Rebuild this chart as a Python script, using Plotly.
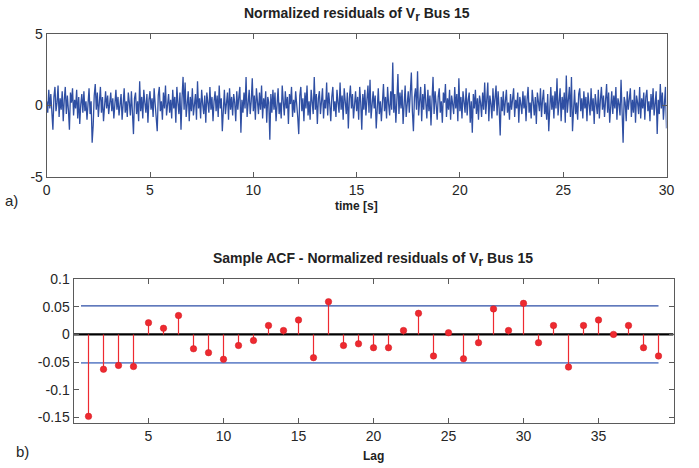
import plotly.graph_objects as go

# ---------------- data ----------------
DT = 0.05
residual_rows = [
    [0.3, -0.5, 1.1, -0.2, 0.8, -0.9, -1.7, 0.6, 1.3, -0.4, 0.2, 1.4, -0.8, 0.5, -0.3, 1.0, -1.1, 0.4, 1.3, -0.6],
    [0.7, -0.3, -1.7, 0.9, 0.2, 1.2, -0.7, 0.4, -0.2, 1.1, -0.9, 0.6, -1.3, 0.1, 0.8, -0.5, 1.0, -0.4, 0.3, -1.0],
    [0.5, 1.2, -0.6, 0.3, -2.6, -1.4, 0.7, 1.5, -0.3, 0.9, -0.8, 0.2, 1.3, -0.5, 0.6, -1.1, 0.4, 1.0, -0.2, 0.7],
    [-0.6, 0.3, 0.9, -0.4, 0.5, -0.9, 0.2, 1.1, -0.3, 0.6, -0.7, 0.1, 0.8, -1.0, 0.4, 1.2, -0.5, 0.3, -0.8, 0.9],
    [0.2, -0.7, 1.0, -0.3, -2.0, 0.5, 0.9, -0.6, 0.3, -1.1, 1.7, -0.4, 0.6, -0.9, 1.1, 0.2, -0.5, 0.8, -1.2, 0.4],
    [1.0, -0.3, 0.5, -0.8, 1.2, 0.1, -0.6, -1.8, 0.7, 1.3, -0.4, 0.3, -1.0, 0.9, -0.2, 1.4, -0.7, 0.2, 0.8, -0.5],
    [0.4, -0.9, 1.1, -0.2, 0.6, -1.2, 1.3, 0.2, -0.6, 0.9, -1.7, 0.5, 2.0, -0.3, 1.6, -0.8, 0.3, 1.0, -1.1, 0.6],
    [-0.4, 1.2, -0.7, 0.3, 0.8, -1.0, 1.7, -0.2, 0.5, -0.9, 1.1, 0.1, -0.6, 0.7, -1.2, 0.9, 0.2, -0.5, 1.3, -0.3],
    [0.6, -1.1, 0.3, 1.0, -0.4, 0.7, -0.8, 1.4, -0.2, 0.5, -1.8, 0.4, 1.1, -0.6, 0.2, 0.9, -1.0, 1.2, -0.3, 0.6],
    [-0.7, 0.8, 0.2, -1.1, 1.0, -0.3, 0.6, 1.3, -1.9, 0.4, -0.5, 0.9, -0.2, 2.0, -0.8, 0.5, 1.1, -0.6, 0.3, 1.9],
    [-0.4, 0.7, -1.0, 1.2, 0.1, -0.6, 0.9, -0.3, 1.4, -0.9, 0.5, -0.2, 1.0, -1.2, 0.6, 0.2, -2.4, 0.8, -0.5, 1.1],
    [-0.3, 0.9, -1.1, 0.4, 1.2, -0.6, 0.2, -0.9, 1.4, 0.3, -0.7, 1.0, -0.2, 0.6, -1.3, 0.8, 0.1, 1.3, -0.8, 0.4],
    [-0.5, 1.0, 0.2, -0.8, -2.0, 0.7, 1.3, -0.4, 0.5, -1.1, 0.9, -0.2, 1.4, -0.7, 0.3, -1.0, 1.1, 0.4, -0.6, 2.0],
    [-0.3, 0.8, -1.3, 0.5, 1.0, -0.6, 0.2, 1.2, -0.9, 0.4, -0.2, 1.6, -0.7, 0.9, 0.1, -1.1, 0.6, 1.3, -0.4, 0.3],
    [-0.8, 1.1, 0.2, -0.5, 1.6, -0.3, 0.7, -1.0, 1.2, 0.4, -0.6, 0.9, -1.6, 0.5, 1.4, -0.2, 0.8, -0.9, 0.3, 1.0],
    [-0.4, 0.6, -1.0, 1.3, 0.2, -1.7, 0.8, -0.3, 1.1, -0.7, 0.4, 1.4, -0.5, 1.8, -0.9, 0.3, 1.0, -0.2, 0.7, -1.6],
    [0.5, 1.2, -0.6, 0.3, -1.1, 0.9, 1.5, -0.4, 0.6, -0.9, 1.3, 0.1, -0.7, 1.0, -0.3, 3.0, -0.5, 0.8, -1.2, 0.4],
    [2.2, -0.6, 0.9, -0.2, 1.1, -1.3, 0.5, 1.4, -0.8, 0.3, 1.0, -0.5, 0.7, 2.3, -0.4, -1.8, 0.6, 1.2, -0.3, 2.4],
    [-0.7, 0.5, 1.3, -1.1, 0.8, -0.3, 1.5, 0.2, -0.9, 1.1, -0.4, 0.7, -1.4, 0.4, 2.0, -0.6, 1.0, 0.1, -1.0, 0.6],
    [1.2, -0.5, 0.3, -1.2, 0.9, 0.2, 1.5, -0.8, 0.5, -0.3, 1.1, -1.0, 0.7, 0.1, -0.6, 1.3, -0.2, 0.8, -1.1, 1.9],
    [-0.4, 0.6, -0.9, 1.0, 0.2, -0.5, 1.2, -0.7, 0.4, 0.9, -1.2, 0.3, -1.9, 0.8, -0.2, 1.1, -0.6, 0.5, -1.0, 0.7],
    [0.2, -0.8, 0.9, -0.3, 1.6, -0.6, 0.4, 1.6, -1.1, 0.7, 0.1, -0.9, 1.2, -0.4, 0.5, 1.4, -0.7, 1.0, -0.2, -2.1],
    [0.6, -0.4, 1.0, -0.7, 0.3, 1.1, -0.5, 0.2, -1.0, 0.8, -0.3, 0.5, 1.2, -0.8, 0.4, -0.2, 0.9, -1.2, 0.6, 0.1],
    [-0.6, 1.0, -0.2, 0.7, -1.1, 0.4, 1.3, -0.5, 0.2, -0.9, 1.1, 0.3, -0.7, 0.6, -1.3, 0.9, 0.1, -0.4, 1.2, -0.8],
    [0.4, 1.1, -0.6, 0.2, -1.0, 0.8, -1.8, 0.5, 1.3, -0.3, 0.7, -0.9, 1.0, -0.2, 1.9, -0.7, 0.3, 1.2, -1.1, 0.6],
    [-0.3, 0.9, -1.2, 2.1, -0.5, 0.6, 1.3, -0.8, 2.0, -1.8, 0.4, 1.1, -0.6, 0.2, -1.0, 0.8, 1.2, -0.4, 0.5, -0.9],
    [1.0, -0.2, 0.6, -1.1, 0.9, 0.3, -0.7, 1.2, -0.4, 0.5, -1.3, 0.8, 0.1, -0.6, 1.1, -0.9, 0.4, 1.3, -0.3, 0.7],
    [-0.8, 0.4, 1.5, -0.5, 0.9, -1.2, 0.3, 1.0, -0.6, 0.7, -0.2, 1.3, -1.0, 0.5, 0.1, -0.7, 1.8, -0.4, -2.6, 0.6],
    [0.2, -1.1, 1.0, -0.3, 0.6, 1.2, -0.8, 0.4, -0.5, 1.1, -1.2, 0.7, 0.2, -0.6, 1.3, -0.9, 0.5, -0.2, 0.9, -1.0],
    [0.6, 1.1, -0.4, 0.3, -1.1, 0.8, -0.3, 1.2, -0.7, 0.5, 1.0, -2.0, 0.4, -0.6, 1.5, -0.2, 0.9, -1.0, 0.6, 1.3],
    [-1.6],
]

lags = list(range(1, 40))
acf_values = [
    -0.148, -0.063, -0.056, -0.058, 0.021, 0.011, 0.034, -0.026, -0.033, -0.045,
    -0.020, -0.011, 0.016, 0.007, 0.026, -0.042, 0.059, -0.020, -0.017, -0.024,
    -0.024, 0.007, 0.038, -0.039, 0.003, -0.044, -0.015, 0.046, 0.007, 0.056,
    -0.015, 0.016, -0.059, 0.016, 0.026, 0.000, 0.016, -0.024, -0.039,
]
conf_bound = 0.0516
bound_lag_span = [0.5, 39]

top_xticks = [0, 5, 10, 15, 20, 25, 30]
top_yticks = [-5, 0, 5]
bot_xticks = [5, 10, 15, 20, 25, 30, 35]
bot_yticks = [-0.15, -0.1, -0.05, 0, 0.05, 0.1]
bot_ytext = ["-0.15", "-0.1", "-0.05", "0", "0.05", "0.1"]

# ---------------- build ----------------
residuals = [v for row in residual_rows for v in row]
t = [i * DT for i in range(len(residuals))]

W, H = 699, 468
FONT = "Liberation Sans, Arial, Helvetica, sans-serif"
TXT = "#262626"
AX = "#5a5a5a"
BLUE = "#2f4fa3"
RED = "#ee2a30"

fig = go.Figure()

fig.add_trace(go.Scatter(x=t, y=residuals, mode="lines",
                         line=dict(color=BLUE, width=1.3), xaxis="x", yaxis="y",
                         showlegend=False, hoverinfo="skip"))

# ACF plot
fig.add_trace(go.Scatter(x=[0, 40], y=[0, 0], mode="lines",
                         line=dict(color="black", width=2.2), xaxis="x2", yaxis="y2",
                         showlegend=False))
fig.add_trace(go.Scatter(x=bound_lag_span, y=[conf_bound, conf_bound], mode="lines",
                         line=dict(color="#2b4ca6", width=1.2), xaxis="x2", yaxis="y2",
                         showlegend=False))
fig.add_trace(go.Scatter(x=bound_lag_span, y=[-conf_bound, -conf_bound], mode="lines",
                         line=dict(color="#6f8bcc", width=1.8), xaxis="x2", yaxis="y2",
                         showlegend=False))
sx, sy = [], []
for lg, v in zip(lags, acf_values):
    sx += [lg, lg, None]
    sy += [0, v, None]
fig.add_trace(go.Scatter(x=sx, y=sy, mode="lines", line=dict(color=RED, width=1.2),
                         xaxis="x2", yaxis="y2", showlegend=False))
fig.add_trace(go.Scatter(x=lags, y=acf_values, mode="markers",
                         marker=dict(color=RED, size=6.5, line=dict(color="#d01a22", width=0.5)),
                         xaxis="x2", yaxis="y2", showlegend=False))

axis_common = dict(showgrid=False, zeroline=False, showline=True, linecolor=AX, linewidth=1,
                   mirror="ticks", ticks="inside", ticklen=5, tickcolor=AX, tickwidth=1,
                   tickfont=dict(family=FONT, size=14, color=TXT), automargin=False)

fig.update_layout(
    width=W, height=H, margin=dict(l=0, r=0, t=0, b=0, autoexpand=False),
    paper_bgcolor="white", plot_bgcolor="white",
    xaxis=dict(domain=[46.7 / W, 666.5 / W], range=[0, 30], tickvals=top_xticks,
               anchor="y", **axis_common),
    yaxis=dict(domain=[1 - 177 / H, 1 - 34 / H], range=[-5, 5], tickvals=top_yticks,
               ticktext=[str(v) for v in top_yticks], anchor="x", **axis_common),
    xaxis2=dict(domain=[73.5 / W, 673.5 / W], range=[0, 40], tickvals=bot_xticks,
                anchor="y2", **axis_common),
    yaxis2=dict(domain=[1 - 423 / H, 1 - 279 / H], range=[-0.16, 0.1], tickvals=bot_yticks,
                ticktext=bot_ytext, anchor="x2", **axis_common),
    font=dict(family=FONT, color=TXT),
)

SUB_R = "<sub><span style='font-size:12px'>r</span></sub>"
ann = [
    dict(text="<b>Normalized residuals of V" + SUB_R + " Bus 15</b>", x=356.5 / W, y=1 - 14 / H, size=14),
    dict(text="<b>time [s]</b>", x=356.5 / W, y=1 - 206 / H, size=12),
    dict(text="<b>Sample ACF - Normalized residuals of V" + SUB_R + " Bus 15</b>", x=373 / W, y=1 - 259 / H, size=14),
    dict(text="<b>Lag</b>", x=373.5 / W, y=1 - 456 / H, size=12),
]
for a in ann:
    fig.add_annotation(text=a["text"], x=a["x"], y=a["y"], xref="paper", yref="paper",
                       showarrow=False, xanchor="center", yanchor="middle",
                       font=dict(family=FONT, size=a["size"], color="#222222"))
fig.add_annotation(text="a)", x=3 / W, y=1 - 200 / H, xref="paper", yref="paper", showarrow=False,
                   xanchor="left", yanchor="middle", font=dict(family=FONT, size=15, color=TXT))
fig.add_annotation(text="b)", x=14 / W, y=1 - 451 / H, xref="paper", yref="paper", showarrow=False,
                   xanchor="left", yanchor="middle", font=dict(family=FONT, size=15, color=TXT))

fig.write_html("out.html", config={"displayModeBar": False},
               post_script="document.body.style.margin='0px';")
